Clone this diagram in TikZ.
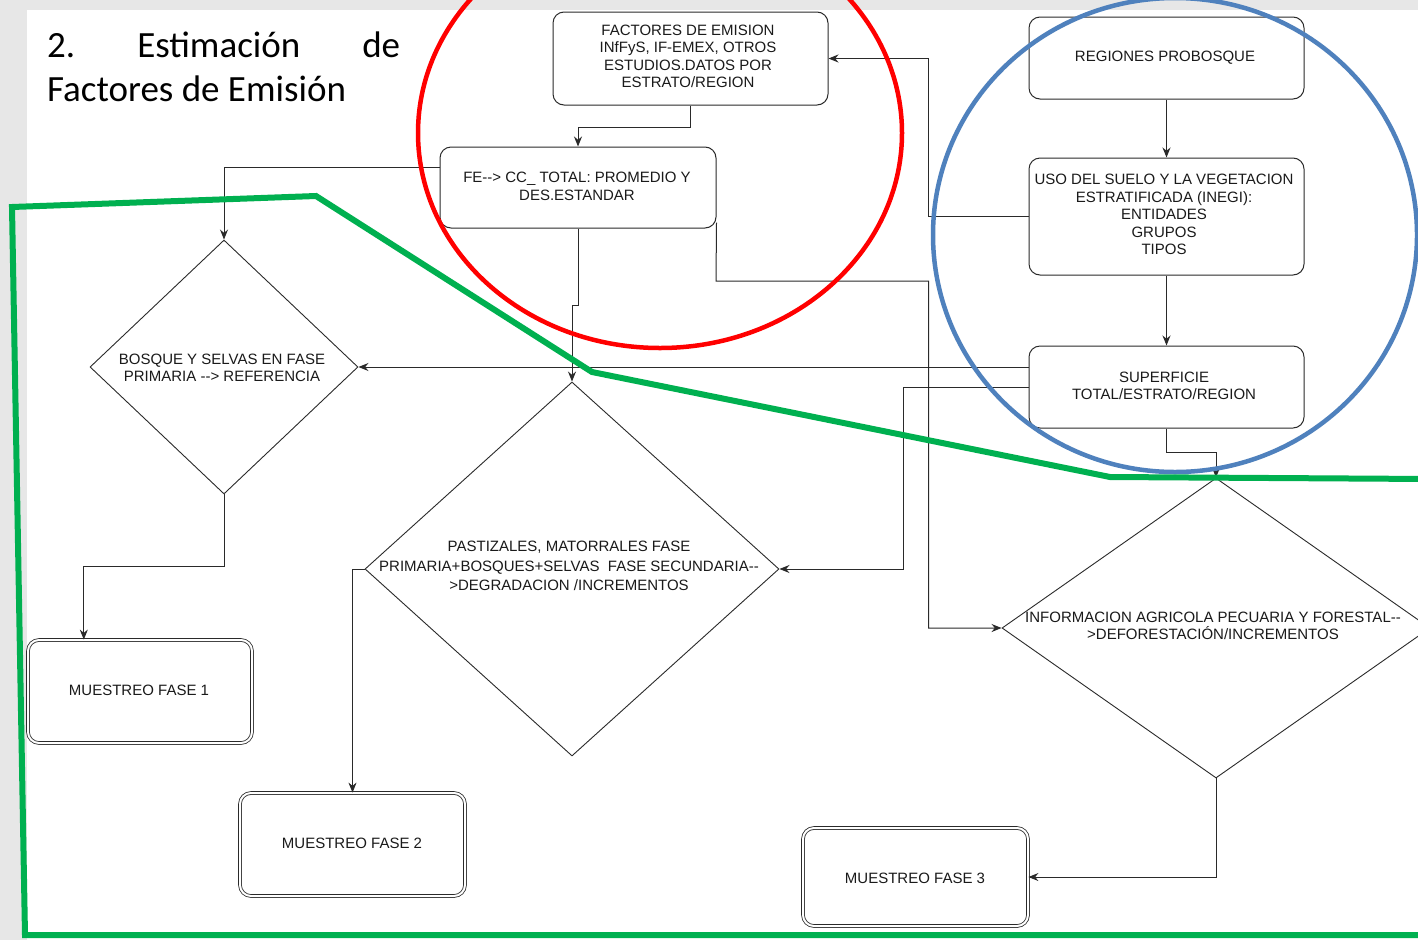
\documentclass[tikz,border=0pt]{standalone}
\usepackage{fontspec}
\setmainfont{Liberation Sans}
\newfontfamily\titlefont{Carlito}
\usetikzlibrary{shapes.geometric,arrows.meta,calc}
\definecolor{paper}{HTML}{E7E7E7}
\definecolor{boxline}{HTML}{2A2A2A}
\definecolor{textc}{HTML}{1A1A1A}
\definecolor{markred}{HTML}{FF0000}
\definecolor{markblue}{HTML}{4F81BD}
\definecolor{markgreen}{HTML}{00B050}
\begin{document}
\begin{tikzpicture}[x=1pt,y=-1pt,
  flowbox/.style={draw=boxline, line width=1pt, rounded corners=11pt, fill=white,
    inner sep=0pt, align=center, text=textc, font=\fontsize{15}{17.5}\selectfont},
  endbox/.style={flowbox, double=white, double distance=2pt, line width=0.8pt},
  decision/.style={diamond, draw=boxline, line width=0.9pt, inner sep=0pt, aspect=1},
  dlabel/.style={align=center, text=textc, inner sep=0pt, font=\fontsize{15}{17.5}\selectfont},
  conn/.style={draw=boxline, line width=1pt, -{Stealth[length=10pt,width=8pt]}},
  hilite/.style={line width=4.5pt}
]
\useasboundingbox (0,0) rectangle (1418,940);
% slide background
\fill[paper] (0,0) rectangle (1418,940);
\fill[white] (27,10) rectangle (1418,940);

% title
\node[anchor=base west, inner sep=0pt, font=\titlefont\fontsize{37}{44}\selectfont, text=black]
  (t1) at (47,57) {\hbox to 353pt{2.\hfill Estimación\hfill de}};
\node[anchor=base west, inner sep=0pt, font=\titlefont\fontsize{37}{44}\selectfont, text=black]
  (t2) at (47,101) {Factores de Emisión};

% process boxes
\node[flowbox, minimum width=275pt, minimum height=93pt] (fe) at (690.5,58.5) {};
\node[dlabel] (fet) at (688,56.5)
  {FACTORES DE EMISION\\INfFyS, IF-EMEX, OTROS\\ESTUDIOS.DATOS POR\\ESTRATO/REGION};
\node[flowbox, minimum width=276pt, minimum height=81pt] (cc) at (578,187.5) {};
\node[dlabel] (cct) at (577,186.5) {FE-{}-> CC\_ TOTAL: PROMEDIO Y\\DES.ESTANDAR};
\node[flowbox, minimum width=275pt, minimum height=82pt] (reg) at (1166.5,58) {};
\node[dlabel] (regt) at (1165,57.5) {REGIONES PROBOSQUE};
\node[flowbox, minimum width=275pt, minimum height=117pt] (uso) at (1166.5,216.5) {};
\node[dlabel] (usot) at (1164,214.5)
  {USO DEL SUELO Y LA VEGETACION\\ESTRATIFICADA (INEGI):\\ENTIDADES\\GRUPOS\\TIPOS};
\node[flowbox, minimum width=275pt, minimum height=82pt] (sup) at (1166.5,387) {};
\node[dlabel] (supt) at (1164,386) {SUPERFICIE\\TOTAL/ESTRATO/REGION};

% decisions
\node[decision, minimum width=268pt, minimum height=254pt] (d1) at (224,367) {};
\node[dlabel] (d1t) at (222,368) {BOSQUE Y SELVAS EN FASE\\PRIMARIA -{}-> REFERENCIA};
\node[decision, minimum width=414pt, minimum height=374pt] (d2) at (572,569) {};
\node[dlabel, font=\fontsize{15}{19.5}\selectfont] (d2t) at (569,566)
  {PASTIZALES, MATORRALES FASE\\PRIMARIA+BOSQUES+SELVAS\ \ FASE SECUNDARIA-{}-\\>DEGRADACION /INCREMENTOS};
\node[decision, minimum width=428pt, minimum height=300pt] (d3) at (1216,628) {};
\node[dlabel] (d3t) at (1213,626)
  {INFORMACION AGRICOLA PECUARIA Y FORESTAL-{}-\\>DEFORESTACIÓN/INCREMENTOS};

% sampling boxes
\node[endbox, minimum width=224pt, minimum height=103pt] (mf1) at (140,691.5) {};
\node[dlabel] (mf1t) at (139,690.5) {MUESTREO FASE 1};
\node[endbox, minimum width=225pt, minimum height=103pt] (mf2) at (352.5,844.5) {};
\node[dlabel] (mf2t) at (352,843.5) {MUESTREO FASE 2};
\node[endbox, minimum width=225pt, minimum height=98pt] (mf3) at (915.5,877) {};
\node[dlabel] (mf3t) at (915,878) {MUESTREO FASE 3};

% connectors
\draw[conn] (fe.south) -- ++(0,22) -| (cc.north);
\draw[conn] (uso.west) -- ++(-100,0) |- (fe.east);
\draw[conn] (reg.south) -- (uso.north);
\draw[conn] (uso.south) -- (sup.north);
\draw[conn] ($(cc.north west)!0.25!(cc.south west)$) -| (d1.north);
\draw[conn] (cc.south) -- ++(0,77) -| (d2.north);
\draw[conn] ($(cc.south east)+(0,-6)$) -- (716,281) -| ($(d3.west)+(-73,0)$) -- (d3.west);
\draw[conn] ($(sup.west)+(0,-20)$) -- (d1.east);
\draw[conn] (sup.west) -- ++(-125,0) |- (d2.east);
\draw[conn] (sup.south) -- ++(0,24) -| (d3.north);
\draw[conn] (d1.south) -- ++(0,72) -| ($(mf1.north west)!0.25!(mf1.north east)$);
\draw[conn] (d2.west) -| (mf2.north);
\draw[conn] (d3.south) |- (mf3.east);

% highlight rings and outline
\draw[hilite, markblue] (1175,235) ellipse [x radius=242, y radius=237];
\draw[hilite, markred] (660,133) ellipse [x radius=242, y radius=215];
\draw[line width=6pt, markgreen, line join=miter]
  (1430,479) -- (1110,477) -- (592,372) -- (316,196) -- (12,207) -- (25,935) -- (1430,935);
\end{tikzpicture}
\end{document}
